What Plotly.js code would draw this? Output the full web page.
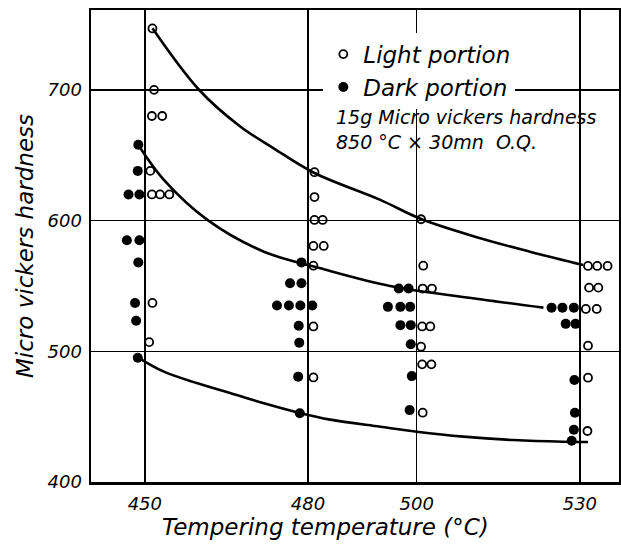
<!DOCTYPE html>
<html>
<head>
<meta charset="utf-8">
<script src="https://cdn.plot.ly/plotly-3.0.1.min.js"></script>
<style>
  html, body { margin: 0; padding: 0; background: #ffffff; }
  #chart { width: 621px; height: 544px; }
</style>
</head>
<body>
<div id="chart"></div>
<script>
// Tempering temperatures (°C) shown as ticks
const tempTicks = [450, 480, 500, 530];
const hardTicks = [400, 500, 600, 700];

// Light portion (open circles): x positions as plotted (spread around each temperature), hardness HV
const lightX = [451.4, 451.7, 451.3, 453.2, 451.0, 451.3, 452.8, 454.5, 451.4, 450.8,
                481.2, 481.2, 481.2, 482.7, 481.0, 482.9, 481.0, 481.0, 481.0,
                500.8, 501.2, 501.1, 502.8, 501.0, 502.5, 500.8, 501.0, 502.7, 501.1,
                531.5, 533.2, 535.1, 531.7, 533.4, 531.1, 533.1, 531.5, 531.5, 531.4];
const lightY = [747, 700, 680, 680, 638, 620, 620, 620, 537, 507,
                637, 618, 600.5, 600.5, 580.6, 580.6, 565.5, 519, 480,
                601, 565.5, 548, 548, 519, 519, 503.5, 490, 490, 453,
                565.3, 565.3, 565.3, 548.7, 548.7, 532.4, 532.4, 504.3, 479.8, 439];

// Dark portion (filled circles)
const darkX = [448.8, 448.7, 447.0, 449.0, 446.7, 449.0, 448.8, 448.2, 448.4, 448.7,
               478.8, 476.7, 478.8, 474.3, 476.5, 478.6, 480.8, 478.3, 478.4, 478.2, 478.5,
               496.7, 498.5, 494.7, 497.0, 498.8, 497.0, 498.9, 498.9, 499.1, 498.7,
               524.8, 526.8, 528.9, 527.4, 529.2, 529.0, 529.1, 528.9, 528.5];
const darkY = [658, 638, 620, 620, 585, 585, 568, 537, 523.4, 495,
               568, 552, 552, 535, 535, 535, 535, 519.6, 506.6, 480.6, 452.6,
               548, 548, 534, 534, 534, 520, 520, 505.4, 481, 455,
               533.4, 533.4, 533.4, 521, 521, 478, 453, 440, 431.6];

// Hand-drawn trend curves (upper envelope of light, dark trend, lower envelope)
const upperX = [451.4, 460.0, 467.6, 473.7, 481.1, 493.3, 500.8, 511.7, 520.8, 530.6];
const upperY = [747.1, 699.9, 671.8, 655.3, 636.6, 615.8, 601.2, 586.5, 576.2, 566.0];
const middleX = [448.8, 453.5, 461.5, 471.9, 482.3, 495.1, 511.7, 523.3];
const middleY = [657.8, 631.1, 600.5, 576.2, 563.5, 550.0, 539.8, 533.4];
const lowerX = [448.7, 453.5, 459.7, 465.8, 471.9, 478.3, 484.1, 493.3, 500.0, 508.6, 517.8, 526.9, 531.5];
const lowerY = [495.4, 484.4, 475.5, 467.9, 460.2, 453.0, 447.7, 442.3, 438.5, 434.7, 432.1, 430.8, 430.6];

const FONT = 'DejaVu Sans';

function curve(x, y) {
  return { x: x, y: y, mode: 'lines', type: 'scatter', showlegend: false, hoverinfo: 'skip',
           line: { color: '#000', width: 2.6, shape: 'spline', smoothing: 1.0 } };
}

const traces = [
  curve(upperX, upperY),
  curve(middleX, middleY),
  curve(lowerX, lowerY),
  { x: lightX, y: lightY, mode: 'markers', type: 'scatter', name: 'Light portion', legendgroup: 'a',
    marker: { symbol: 'circle-open', size: 8, color: '#000', line: { width: 1.8, color: '#000' } } },
  { x: darkX, y: darkY, mode: 'markers', type: 'scatter', name: 'Dark portion', legendgroup: 'b',
    marker: { symbol: 'circle', size: 10, color: '#000' } }
];

const layout = {
  width: 621, height: 544,
  margin: { l: 91, r: 2, t: 10, b: 62 },
  paper_bgcolor: '#ffffff', plot_bgcolor: '#ffffff',
  font: { family: FONT, color: '#000', style: 'italic' },
  showlegend: true,
  legend: {
    x: 0.44, y: 0.952, xanchor: 'left', yanchor: 'top',
    bgcolor: 'rgba(255,255,255,1)', borderwidth: 0,
    font: { family: FONT, size: 23, color: '#000', style: 'italic' },
    tracegroupgap: 0, traceorder: 'grouped'
  },
  xaxis: {
    range: [440.1, 537.2], tickvals: tempTicks, ticktext: tempTicks.map(String),
    showgrid: true, gridcolor: '#000', gridwidth: 1.4, zeroline: false,
    showline: true, linecolor: '#000', linewidth: 2.5, mirror: true,
    ticks: '', ticklabelstandoff: 4,
    tickfont: { family: FONT, size: 18, color: '#000', style: 'italic' }
  },
  yaxis: {
    range: [400, 761.1], tickvals: hardTicks, ticktext: hardTicks.map(String),
    showgrid: true, gridcolor: '#000', gridwidth: 1.4, zeroline: false,
    showline: true, linecolor: '#000', linewidth: 2.5, mirror: true,
    ticks: '', ticklabelstandoff: 3,
    tickfont: { family: FONT, size: 18, color: '#000', style: 'italic' },
    title: { text: 'Micro vickers hardness', standoff: 8,
             font: { family: FONT, size: 23, color: '#000', style: 'italic' } }
  },
  annotations: [
    { xref: 'paper', yref: 'paper', x: 0.445, y: -0.095, xanchor: 'center', yanchor: 'middle',
      text: 'Tempering temperature (°C)', showarrow: false,
      font: { family: FONT, size: 23, color: '#000', style: 'italic' } },
    { xref: 'paper', yref: 'paper', x: 0.46, y: 0.8, xanchor: 'left', yanchor: 'top', align: 'left',
      text: '15g Micro vickers hardness<br>850 °C × 30mn  O.Q.', showarrow: false,
      font: { family: FONT, size: 19, color: '#000', style: 'italic' } }
  ]
};

Plotly.newPlot('chart', traces, layout, { displayModeBar: false, staticPlot: true });
</script>
</body>
</html>
